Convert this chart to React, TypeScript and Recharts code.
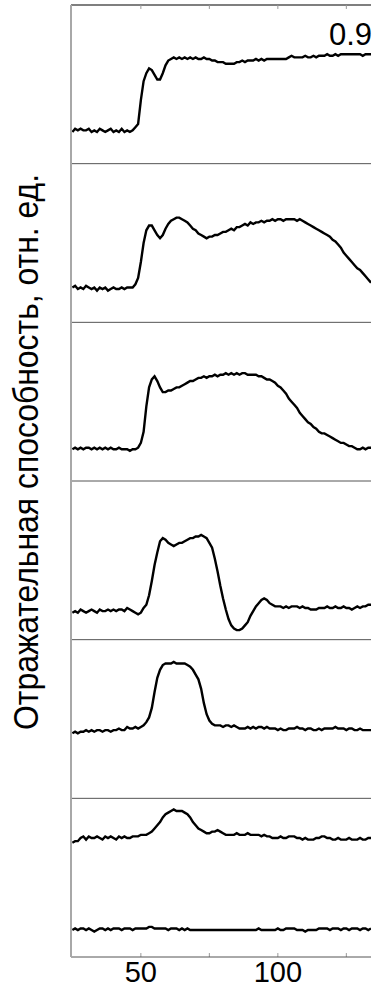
import React from "react";
import { LineChart, Line, XAxis, YAxis, ReferenceLine } from "recharts";

// Reflectance traces, one value per unit of x starting at X_START.
// Values are in percent of a panel's height; panels are stacked top to bottom.
const X_START = 25;

const S1 = [
  20, 22, 21, 22, 21, 21, 22, 20, 21, 20,
  22, 21, 20, 21, 22, 20, 21, 20, 22, 20,
  21, 20, 21, 23, 25, 40, 52, 57, 60, 59,
  56, 53, 53, 57, 62, 65, 66, 67, 66, 67,
  66, 67, 66, 67, 66, 67, 66, 66, 67, 66,
  66, 65, 65, 64, 64, 64, 63, 63, 63, 63,
  64, 64, 65, 64, 65, 65, 65, 66, 65, 66,
  65, 66, 66, 66, 66, 66, 66, 66, 66, 67,
  68, 67, 67, 67, 67, 68, 67, 67, 68, 67,
  68, 68, 68, 69, 68, 68, 69, 68, 69, 69,
  69, 69, 69, 69, 69, 69, 68, 69, 69, 69,
];

const S2 = [
  22, 23, 21, 22, 21, 23, 22, 21, 22, 20,
  22, 21, 22, 20, 21, 22, 21, 21, 22, 21,
  22, 22, 22, 24, 28, 38, 50, 58, 61, 61,
  58, 55, 53, 55, 59, 62, 64, 65, 66, 66,
  65, 64, 63, 61, 59, 58, 56, 55, 54, 53,
  54, 54, 55, 55, 56, 57, 57, 58, 59, 58,
  60, 60, 61, 62, 61, 63, 62, 63, 63, 64,
  63, 64, 64, 65, 64, 65, 65, 64, 65, 65,
  65, 65, 64, 65, 64, 63, 62, 61, 60, 59,
  58, 57, 56, 55, 54, 52, 51, 49, 47, 44,
  42, 40, 38, 36, 34, 33, 31, 29, 27, 25,
];

const S3 = [
  20, 21, 20, 21, 20, 21, 21, 20, 21, 20,
  21, 20, 21, 20, 21, 20, 20, 21, 20, 20,
  20, 19, 20, 20, 21, 24, 31, 47, 59, 64,
  66, 63, 59, 56, 56, 57, 57, 58, 59, 59,
  60, 61, 62, 63, 63, 64, 65, 65, 66, 65,
  66, 66, 67, 66, 67, 67, 68, 67, 68, 67,
  68, 67, 68, 68, 67, 67, 67, 67, 66, 66,
  65, 64, 64, 63, 62, 60, 59, 57, 55, 52,
  50, 48, 46, 43, 41, 39, 37, 36, 34, 33,
  31, 30, 30, 29, 28, 27, 26, 25, 24, 24,
  23, 22, 22, 21, 20, 20, 21, 20, 21, 21,
];

const S4 = [
  17, 18, 17, 19, 18, 17, 18, 19, 18, 17,
  19, 18, 18, 19, 18, 19, 18, 19, 19, 18,
  20, 19, 18, 17, 16, 17, 20, 22, 28, 37,
  47, 55, 62, 64, 63, 61, 60, 59, 60, 61,
  61, 62, 63, 64, 64, 65, 65, 66, 65, 64,
  61, 58, 51, 43, 34, 26, 19, 13, 9, 7,
  6, 6, 7, 9, 11, 15, 18, 21, 23, 25,
  26, 25, 23, 22, 21, 21, 21, 20, 21, 20,
  21, 21, 21, 20, 21, 20, 20, 19, 19, 19,
  20, 20, 20, 21, 20, 20, 21, 20, 20, 21,
  20, 20, 19, 20, 21, 20, 21, 21, 22, 22,
];

const S5 = [
  41, 42, 41, 42, 42, 43, 42, 43, 42, 43,
  43, 42, 43, 43, 42, 43, 43, 44, 43, 43,
  45, 44, 44, 45, 44, 45, 46, 48, 51, 57,
  67, 76, 81, 84, 85, 85, 85, 86, 85, 85,
  85, 85, 84, 83, 81, 78, 75, 69, 60, 53,
  49, 47, 46, 46, 46, 45, 46, 46, 45, 46,
  45, 44, 44, 44, 45, 44, 45, 44, 45, 45,
  44, 45, 44, 44, 44, 43, 44, 43, 43, 44,
  44, 44, 45, 44, 44, 43, 44, 44, 43, 43,
  44, 43, 44, 44, 44, 44, 45, 44, 44, 44,
  43, 44, 44, 43, 43, 44, 43, 43, 43, 43,
];

const S6 = [
  72, 73, 73, 75, 76, 74, 76, 75, 75, 76,
  75, 74, 76, 75, 76, 75, 74, 76, 75, 76,
  75, 75, 76, 76, 76, 77, 77, 77, 78, 79,
  81, 83, 85, 88, 90, 91, 92, 93, 92, 92,
  92, 91, 90, 88, 85, 83, 81, 80, 79, 78,
  78, 79, 79, 80, 79, 78, 77, 77, 77, 77,
  78, 77, 77, 77, 78, 77, 77, 77, 77, 76,
  77, 76, 76, 75, 75, 75, 76, 75, 75, 76,
  76, 76, 75, 75, 74, 75, 74, 74, 74, 75,
  75, 76, 76, 75, 75, 74, 74, 75, 74, 74,
  74, 75, 74, 74, 74, 75, 74, 74, 75, 75,
];

const S7 = [
  17, 18, 17, 18, 18, 17, 18, 17, 16, 17,
  18, 18, 17, 18, 17, 18, 18, 18, 17, 18,
  18, 18, 17, 18, 18, 18, 18, 18, 19, 19,
  18, 18, 18, 18, 18, 17, 18, 18, 18, 17,
  18, 17, 18, 17, 17, 17, 17, 17, 17, 17,
  17, 17, 17, 17, 17, 17, 17, 17, 17, 17,
  17, 17, 17, 17, 17, 17, 17, 17, 18, 17,
  17, 17, 17, 17, 17, 18, 17, 17, 18, 18,
  18, 18, 17, 17, 17, 16, 17, 17, 17, 17,
  18, 18, 18, 18, 17, 18, 18, 18, 17, 18,
  18, 17, 18, 18, 18, 17, 18, 18, 17, 18,
];

const SERIES = [S1, S2, S3, S4, S5, S6, S7];
// which stacked panel each trace lives in (5 = top, 0 = bottom)
const PANEL_OF = [5, 4, 3, 2, 1, 0, 0];
const PANEL_SPAN = 100;
const PANEL_COUNT = 6;
const TOP = PANEL_COUNT * PANEL_SPAN;
const TICK_LEN = 2.5; // inward tick length, in y units

const X_DOMAIN: [number, number] = [24.5, 134];
const X_TICKS = [50, 75, 100, 125];
const X_LABELED = [50, 100];
const DIVIDERS = [100, 200, 300, 400, 500];

const Y_LABEL = "Отражательная способность, отн. ед.";
const NOTE = "0.9";

const FONT = '"Liberation Sans", Arial, Helvetica, sans-serif';
const GRID = "#555";
const TICK_COLOR = "#999";

const rows = S1.map((_, i) => {
  const row: Record<string, number> = { x: X_START + i };
  SERIES.forEach((s, k) => {
    row[`s${k}`] = s[i] + PANEL_OF[k] * PANEL_SPAN;
  });
  return row;
});

function YTitle() {
  return (
    <text
      x={38}
      y={452}
      transform="rotate(-90 38 452)"
      textAnchor="middle"
      fontFamily={FONT}
      fontSize={35}
      fill="#000"
      textLength={556}
      lengthAdjust="spacingAndGlyphs"
    >
      {Y_LABEL}
    </text>
  );
}

function TopNote() {
  return (
    <text
      x={372}
      y={45}
      textAnchor="end"
      fontFamily={FONT}
      fontSize={31}
      fill="#000"
    >
      {NOTE}
    </text>
  );
}

export default function App() {
  return (
    <div style={{ position: "absolute", left: 0, top: 0, width: 375, height: 989, background: "#fff" }}>
      <LineChart
        width={375}
        height={989}
        data={rows}
        margin={{ top: 5, right: 4, bottom: 0, left: 0 }}
      >
        <XAxis
          dataKey="x"
          type="number"
          domain={X_DOMAIN}
          allowDataOverflow
          ticks={X_TICKS}
          tickFormatter={(v: number) => (X_LABELED.includes(v) ? String(v) : "")}
          tick={{ fontSize: 29, fill: "#000", fontFamily: FONT }}
          tickLine={false}
          tickSize={2}
          tickMargin={2}
          axisLine={{ stroke: GRID, strokeWidth: 1 }}
          height={32}
        />
        <YAxis
          type="number"
          domain={[0, TOP]}
          allowDataOverflow
          width={71}
          tick={false}
          tickLine={false}
          axisLine={{ stroke: "#a8a8a8", strokeWidth: 2 }}
          label={<YTitle />}
        />
        {DIVIDERS.map((y) => (
          <ReferenceLine key={y} y={y} stroke={GRID} strokeWidth={1} />
        ))}
        <ReferenceLine y={TOP} stroke={GRID} strokeWidth={1.5} label={<TopNote />} />
        {X_TICKS.map((t) => (
          <ReferenceLine
            key={`tt${t}`}
            segment={[
              { x: t, y: TOP },
              { x: t, y: TOP - TICK_LEN },
            ]}
            stroke={TICK_COLOR}
            strokeWidth={1}
          />
        ))}
        {X_TICKS.map((t) => (
          <ReferenceLine
            key={`bt${t}`}
            segment={[
              { x: t, y: 0 },
              { x: t, y: TICK_LEN },
            ]}
            stroke={TICK_COLOR}
            strokeWidth={1}
          />
        ))}
        {SERIES.map((_, k) => (
          <Line
            key={k}
            dataKey={`s${k}`}
            type="linear"
            stroke="#000"
            strokeWidth={2.4}
            dot={false}
            activeDot={false}
            isAnimationActive={false}
          />
        ))}
      </LineChart>
    </div>
  );
}
